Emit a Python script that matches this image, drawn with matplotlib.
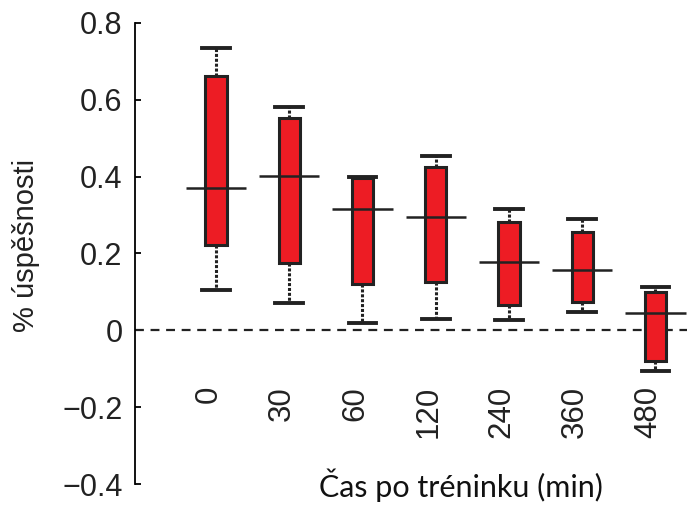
import matplotlib
matplotlib.use("Agg")
import matplotlib.pyplot as plt

# time after training (min) and box statistics
times = ["0", "30", "60", "120", "240", "360", "480"]
whisker_hi = [0.736, 0.582, 0.400, 0.455, 0.317, 0.291, 0.114]
box_hi = [0.662, 0.553, 0.397, 0.426, 0.281, 0.255, 0.099]
center = [0.371, 0.403, 0.315, 0.296, 0.179, 0.158, 0.044]
box_lo = [0.221, 0.174, 0.120, 0.127, 0.065, 0.075, -0.080]
whisker_lo = [0.104, 0.070, 0.020, 0.029, 0.026, 0.049, -0.106]

red = "#ED1C24"
ink = "#222222"

fig = plt.figure(figsize=(6.87, 5.05), dpi=100)
ax = fig.add_axes([135 / 687, 21 / 505, 552 / 687, 461 / 505])

pos = list(range(len(times)))
stats = []
for i in pos:
    stats.append(dict(med=center[i], q1=box_lo[i], q3=box_hi[i],
                      whislo=whisker_lo[i], whishi=whisker_hi[i], fliers=[]))

ax.bxp(stats, positions=pos, widths=0.29, patch_artist=True,
       boxprops=dict(facecolor=red, edgecolor=ink, linewidth=2.2),
       whiskerprops=dict(color=ink, linewidth=2.2, linestyle=(0, (1, 0.6))),
       capprops=dict(color=ink, linewidth=2.8),
       medianprops=dict(visible=False),
       capwidths=0.38, zorder=3)

# wide centre line across every box
ax.hlines(center, [p - 0.41 for p in pos], [p + 0.41 for p in pos],
          color=ink, linewidth=1.8, zorder=4)

ax.axhline(0, color=ink, linewidth=1.6, linestyle=(0, (4, 3)), zorder=2)

ax.set_xlim(-1.105, 6.43)
ax.set_ylim(-0.4, 0.8)
ax.set_yticks([-0.4, -0.2, 0, 0.2, 0.4, 0.6, 0.8])
ax.set_yticklabels(["\u22120.4", "\u22120.2", "0", "0.2", "0.4", "0.6", "0.8"])
ax.set_xticks([])

for s in ["top", "right", "bottom"]:
    ax.spines[s].set_visible(False)
ax.spines["left"].set_color("black")
ax.spines["left"].set_linewidth(1.3)
ax.tick_params(axis="y", direction="in", length=4, width=1.3, color="black",
               pad=9, labelsize=22, labelcolor=ink)
for lab in ax.get_yticklabels():
    lab.set_family("Liberation Sans")

for i in pos:
    ax.text(i - 0.1, -0.145, times[i], rotation=90, ha="center", va="top",
            fontsize=22.5, color=ink, family="Liberation Sans")

fig.text(26 / 687, 1 - 245 / 505, "% úspěšnosti", rotation=90,
         ha="center", va="center", fontsize=21, color=ink,
         family="Liberation Sans")
fig.text(461 / 687, 3 / 505, "Čas po tréninku (min)",
         ha="center", va="bottom", fontsize=22, color="#111111", family="Lato")

fig.savefig("out.png", dpi=100)
